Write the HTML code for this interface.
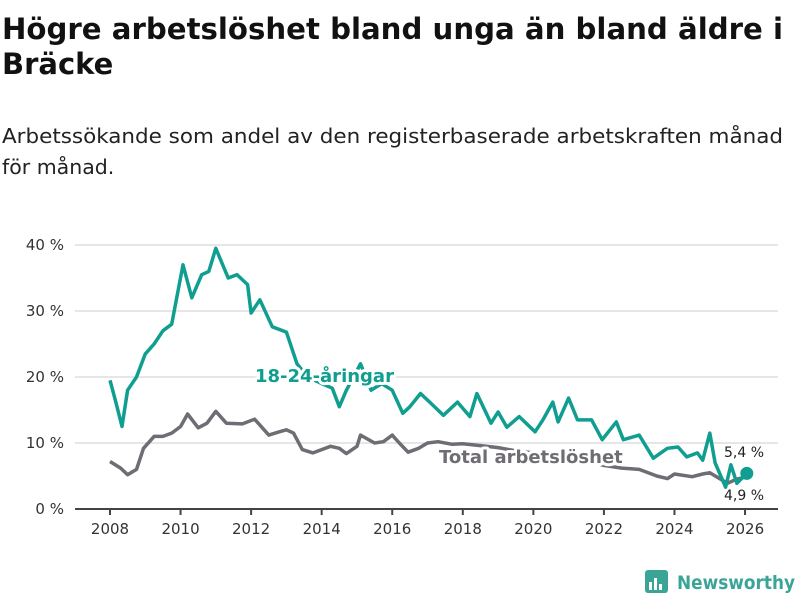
<!DOCTYPE html>
<html><head><meta charset="utf-8"><style>
body{margin:0;background:#fff;width:800px;height:600px;overflow:hidden;font-family:"Liberation Sans","DejaVu Sans",sans-serif}
svg text{font-family:"DejaVu Sans","Liberation Sans",sans-serif}
</style></head><body>
<svg width="800" height="600" id="c">
<text x="2" y="39" font-size="29" font-weight="bold" fill="#111" textLength="781" lengthAdjust="spacingAndGlyphs">Högre arbetslöshet bland unga än bland äldre i</text>
<text x="2" y="74" font-size="29" font-weight="bold" fill="#111">Bräcke</text>
<text x="2" y="143" font-size="20.5" fill="#222" textLength="781" lengthAdjust="spacingAndGlyphs">Arbetssökande som andel av den registerbaserade arbetskraften månad</text>
<text x="2" y="174" font-size="20.5" fill="#222">för månad.</text>
<g id="grid"></g><g id="lines"></g><g id="labels"></g>
<g>
<rect x="645" y="570" width="23" height="23" rx="3" fill="#3aa597"/>
<rect x="649" y="582" width="3" height="8" fill="#fff"/><rect x="654" y="578" width="3" height="12" fill="#fff"/><rect x="659" y="584" width="3" height="6" fill="#fff"/>
<text x="677" y="589" font-size="19" font-weight="bold" fill="#3aa597" textLength="118" lengthAdjust="spacingAndGlyphs">Newsworthy</text>
</g>
</svg>
<script>
const yTicks=[0,10,20,30,40];
const xTicks=[2008,2010,2012,2014,2016,2018,2020,2022,2024,2026];
const youthYears=[2008,2008.15,2008.34,2008.5,2008.75,2009,2009.25,2009.5,2009.75,2010.07,2010.32,2010.6,2010.8,2011,2011.35,2011.6,2011.9,2012,2012.25,2012.6,2013,2013.3,2013.6,2014,2014.3,2014.5,2014.7,2015,2015.1,2015.4,2015.7,2016,2016.3,2016.5,2016.8,2017.1,2017.45,2017.85,2018.2,2018.4,2018.8,2019,2019.25,2019.6,2020.05,2020.27,2020.55,2020.7,2021,2021.25,2021.65,2021.95,2022.35,2022.55,2023,2023.4,2023.8,2024.1,2024.35,2024.65,2024.8,2025,2025.15,2025.45,2025.6,2025.77,2026.05];
const youthVals=[19.5,16.5,12.5,18,20,23.5,25,27,28,37,32,35.5,36,39.5,35,35.5,34,29.7,31.7,27.6,26.8,22,20,19,18.3,15.5,18,21,22,18,19,18,14.5,15.5,17.5,16,14.2,16.2,14,17.5,13,14.7,12.4,14,11.7,13.5,16.2,13.2,16.8,13.5,13.5,10.5,13.2,10.5,11.2,7.7,9.2,9.4,7.9,8.5,7.4,11.5,7,3.3,6.7,3.9,5.4];
const totYears=[2008,2008.3,2008.5,2008.75,2008.95,2009.25,2009.5,2009.75,2010,2010.2,2010.5,2010.75,2011,2011.3,2011.75,2012.1,2012.5,2012.8,2013,2013.2,2013.45,2013.75,2014,2014.25,2014.5,2014.7,2015,2015.1,2015.5,2015.75,2016,2016.2,2016.45,2016.75,2017,2017.3,2017.7,2018,2018.5,2019,2019.5,2020,2020.5,2021,2021.5,2022,2022.5,2023,2023.5,2023.8,2024,2024.5,2024.8,2025,2025.5,2025.75,2026.05];
const totVals=[7.2,6.2,5.2,6,9.2,11,11,11.5,12.5,14.4,12.3,13,14.8,13,12.9,13.6,11.2,11.7,12,11.5,9,8.5,9,9.5,9.2,8.4,9.5,11.2,10,10.2,11.2,10,8.6,9.2,10,10.2,9.8,9.9,9.6,9.3,8.8,8.5,8.2,7.8,7.3,6.6,6.2,6,5,4.6,5.3,4.9,5.3,5.5,3.9,4.5,4.9];
const X=y=>110+(y-2008)*35.28, Y=v=>509-v*6.6;
const ns='http://www.w3.org/2000/svg';
function mk(t,a,p){const e=document.createElementNS(ns,t);for(const k in a)e.setAttribute(k,a[k]);p.appendChild(e);return e;}
const g=document.getElementById('grid');
yTicks.forEach(v=>{
 const l=mk('line',{x1:75,x2:778,y1:Y(v),y2:Y(v),stroke:v?'#dddddd':'#444','stroke-width':v?1.5:2},g);
 
 
 const t=mk('text',{x:64,y:Y(v)+5,'text-anchor':'end','font-size':15,fill:'#333'},g);
 
 
 t.textContent=v+' %';
});
xTicks.forEach(y=>{
 const l=mk('line',{x1:X(y),x2:X(y),y1:509,y2:515,stroke:'#444','stroke-width':2},g);
 
 
 const t=mk('text',{x:X(y),y:534,'text-anchor':'middle','font-size':15,fill:'#333'},g);
 
 
 t.textContent=y;
});
const L=document.getElementById('lines');
function line(ys,vs,col,name){
 const p=mk('path',{d:ys.map((y,i)=>(i?'L':'M')+X(y).toFixed(1)+','+Y(vs[i]).toFixed(1)).join(''),fill:'none',stroke:col,'stroke-width':3.5,'stroke-linejoin':'round'},L);
 
 
}
line(totYears,totVals,'#6f6c73','total-line');
line(youthYears,youthVals,'#0f9e8f','youth-line');
const d=mk('circle',{cx:X(youthYears[youthYears.length-1]),cy:Y(youthVals[youthVals.length-1]),r:6.5,fill:'#0f9e8f'},L);


const lb=document.getElementById('labels');
function lab(x,y,s,col,txt,name,bold){
 const t=mk('text',{x:x,y:y,'font-size':s,fill:col,'font-weight':bold?'bold':'normal',stroke:'#fff','stroke-width':bold?6:0,'paint-order':'stroke','stroke-linejoin':'round'},lb);
 
 
 t.textContent=txt;
}
lab(255,382,18,'#0f9e8f','18-24-åringar','youth-series-label',true);
lab(439,463,18,'#6f6c73','Total arbetslöshet','total-series-label',true);
lab(724,457,14,'#222','5,4 %','youth-end-value',false);
lab(724,500,14,'#222','4,9 %','total-end-value',false);
</script>
</body></html>
